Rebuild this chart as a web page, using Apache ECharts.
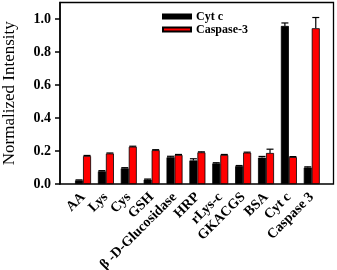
<!DOCTYPE html>
<html>
<head>
<meta charset="utf-8">
<script src="https://cdn.jsdelivr.net/npm/echarts@6/dist/echarts.min.js"></script>
<style>
html,body{margin:0;padding:0;background:#fff;}
#c{width:337px;height:270px;}
</style>
</head>
<body>
<div id="c"></div>
<script>
const categories = ['AA','Lys','Cys','GSH','β -D-Glucosidase','HRP','rLys-c','GKACGS','BSA','Cyt c','Caspase 3'];
const cytC = [0.022, 0.077, 0.095, 0.027, 0.162, 0.143, 0.125, 0.108, 0.160, 0.958, 0.100];
const caspase3 = [0.170, 0.185, 0.226, 0.205, 0.176, 0.192, 0.176, 0.190, 0.188, 0.163, 0.944];
const cytCErr = [0.003, 0.004, 0.004, 0.003, 0.006, 0.010, 0.004, 0.004, 0.007, 0.018, 0.004];
const caspase3Err = [0.003, 0.003, 0.003, 0.003, 0.003, 0.003, 0.003, 0.003, 0.023, 0.003, 0.065];
const yTicks = [0, 0.2, 0.4, 0.6, 0.8, 1.0];
const seriesNames = ['Cyt c', 'Caspase-3'];
const yAxisName = 'Normalized Intensity';

const FONT = 'Liberation Serif';
const BAR_W = 8;

function errRender(offset) {
  return function (params, api) {
    const i = api.value(0), v = api.value(1), e = api.value(2);
    const base = api.coord([i, v]);
    const top = api.coord([i, v + e]);
    const x = base[0] + offset;
    const st = { stroke: '#000', lineWidth: 1.2 };
    return {
      type: 'group',
      children: [
        { type: 'line', shape: { x1: x, y1: base[1], x2: x, y2: top[1] }, style: st },
        { type: 'line', shape: { x1: x - 3.5, y1: top[1], x2: x + 3.5, y2: top[1] }, style: st }
      ]
    };
  };
}

const chart = echarts.init(document.getElementById('c'), null, { renderer: 'canvas' });
chart.setOption({
  animation: false,
  backgroundColor: '#fff',
  legend: {
    data: seriesNames,
    orient: 'vertical',
    left: 162,
    top: 10,
    padding: 0,
    itemWidth: 28,
    itemHeight: 4,
    itemGap: 0,
    icon: 'rect',
    textStyle: { fontFamily: FONT, fontWeight: 'bold', fontSize: 12, color: '#000', lineHeight: 13 }
  },
  grid: [
    { left: 60, right: 3.5, top: 2.5, bottom: 86, outerBoundsMode: 'none', containLabel: false, show: true, borderColor: '#000', borderWidth: 1.3, backgroundColor: 'transparent' },
    { left: 71.6, right: 13.8, top: 2.5, bottom: 86, outerBoundsMode: 'none', containLabel: false }
  ],
  xAxis: [
    { gridIndex: 0, type: 'value', show: false, min: 0, max: 1 },
    {
      gridIndex: 1, type: 'category', data: categories,
      axisLine: { show: false }, axisTick: { show: false },
      axisLabel: { interval: 0, rotate: 45, margin: 11, fontFamily: FONT, fontWeight: 'bold', fontSize: 14, color: '#000' }
    }
  ],
  yAxis: [
    {
      gridIndex: 0, type: 'value', min: 0, max: 1.1,
      name: yAxisName, nameLocation: 'middle', nameGap: 42, nameRotate: 90,
      nameTextStyle: { fontFamily: FONT, fontSize: 17, color: '#000' },
      axisLine: { show: true, lineStyle: { color: '#000', width: 1.5 } },
      axisTick: { show: true, inside: false, length: 5, lineStyle: { color: '#000', width: 1.5 }, customValues: yTicks },
      axisLabel: { margin: 9, fontFamily: FONT, fontWeight: 'bold', fontSize: 14, color: '#000', customValues: yTicks, formatter: v => v.toFixed(1) },
      splitLine: { show: false }
    },
    { gridIndex: 1, type: 'value', min: 0, max: 1.1, show: false, splitLine: { show: false } }
  ],
  series: [
    {
      name: seriesNames[0], type: 'bar', xAxisIndex: 1, yAxisIndex: 1,
      data: cytC, barWidth: BAR_W, barGap: 0,
      itemStyle: { color: '#000', borderColor: '#000', borderWidth: 0.8 }
    },
    {
      name: seriesNames[1], type: 'bar', xAxisIndex: 1, yAxisIndex: 1,
      data: caspase3, barWidth: BAR_W, barGap: 0,
      itemStyle: { color: '#ff0000', borderColor: '#000', borderWidth: 0.8 }
    },
    {
      name: 'errCyt', type: 'custom', xAxisIndex: 1, yAxisIndex: 1, z: 5,
      renderItem: errRender(-BAR_W / 2),
      data: cytC.map((v, i) => [i, v, cytCErr[i]])
    },
    {
      name: 'errCasp', type: 'custom', xAxisIndex: 1, yAxisIndex: 1, z: 5,
      renderItem: errRender(BAR_W / 2),
      data: caspase3.map((v, i) => [i, v, caspase3Err[i]])
    }
  ]
});
</script>
</body>
</html>
